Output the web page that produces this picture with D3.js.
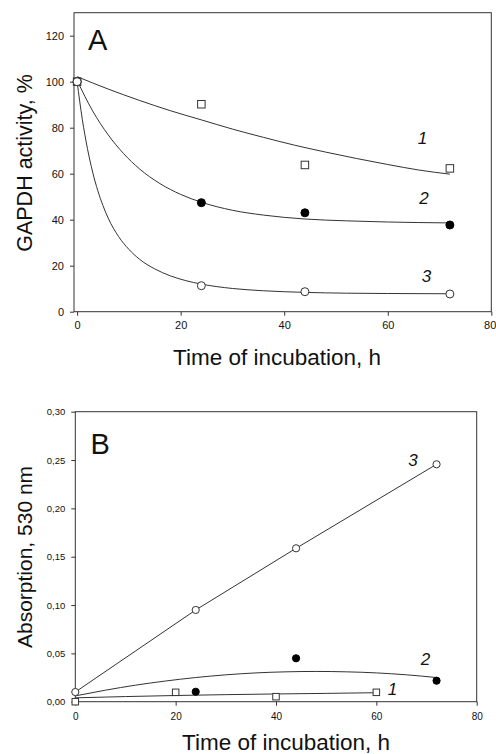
<!DOCTYPE html>
<html>
<head>
<meta charset="utf-8">
<script src="https://cdn.jsdelivr.net/npm/d3@7"></script>
<style>
  html, body { margin: 0; padding: 0; background: #fff; }
  svg { display: block; }
  text { font-family: "Liberation Sans", Arial, sans-serif; fill: #111; }
</style>
</head>
<body>
<svg id="chart" width="496" height="754"></svg>
<script>
// ---------- Panel A data ----------
const timeA = [0, 24, 44, 72];
const gapdh1 = [100, 90.2, 63.8, 62.3];
const gapdh2 = [100, 47.4, 43.0, 37.7];
const gapdh3 = [100, 11.3, 8.7, 7.7];
// fitted curves
const fitA1x = [0, 6, 12, 18, 24, 30, 36, 42, 48, 54, 60, 66, 72];
const fitA1y = [102.2, 96.8, 91.9, 87.4, 83.4, 79.4, 75.8, 72.4, 69.4, 66.6, 64.0, 61.6, 59.8];
const fitA2x = [0, 3, 6, 9, 12, 16, 20, 24, 30, 36, 44, 52, 60, 72];
const fitA2y = [100.5, 87.3, 76.9, 68.7, 62.2, 55.7, 51.0, 47.6, 44.1, 42.0, 40.3, 39.5, 39.0, 38.6];
const fitA3x = [0, 1, 2, 3, 4, 5, 6, 8, 10, 12, 15, 18, 21, 24, 30, 36, 44, 52, 60, 72];
const fitA3y = [100, 83.7, 70.9, 60.7, 52.6, 46.1, 40.7, 32.7, 27.1, 22.9, 18.6, 15.6, 13.5, 12.0, 10.1, 9.1, 8.4, 8.05, 7.9, 7.8];
const xTicksA = [0, 20, 40, 60, 80];
const yTicksA = [0, 20, 40, 60, 80, 100, 120];

// ---------- Panel B data ----------
const timeB1 = [0, 20, 40, 60];
const absorb1 = [0.000, 0.0097, 0.0052, 0.0097];
const timeB2 = [24, 44, 72];
const absorb2 = [0.0103, 0.0449, 0.0217];
const timeB3 = [0, 24, 44, 72];
const absorb3 = [0.0100, 0.0949, 0.1587, 0.2456];
const fitB1x = [0, 10, 20, 30, 40, 50, 60];
const fitB1y = [0.0040, 0.0053, 0.0064, 0.0073, 0.0080, 0.0086, 0.0093];
const fitB2x = [0, 6, 12, 18, 24, 30, 36, 42, 48, 54, 60, 66, 72];
const fitB2y = [0.0060, 0.0119, 0.0171, 0.0214, 0.0250, 0.0278, 0.0298, 0.0309, 0.0313, 0.0309, 0.0298, 0.0278, 0.0250];
const xTicksB = [0, 20, 40, 60, 80];
const yTicksB = [0, 0.05, 0.10, 0.15, 0.20, 0.25, 0.30];

const svg = d3.select("#chart");
const ink = "#333";
const zip = (xs, ys) => xs.map((x, i) => [x, ys[i]]);

function frameAndAxes(g, x, y, xt, yt, yfmt, xFont, yFont, xLabBase) {
  const [x0, x1] = x.range();
  const [y0, y1] = y.range();
  g.append("rect").attr("x", x0).attr("y", y1).attr("width", x1 - x0).attr("height", y0 - y1)
    .attr("fill", "none").attr("stroke", ink).attr("stroke-width", 1);
  const xa = g.append("g").attr("transform", `translate(0,${y0})`)
    .call(d3.axisBottom(x).tickValues(xt).tickSize(4).tickPadding(xLabBase).tickFormat(d3.format("d")));
  const ya = g.append("g").attr("transform", `translate(${x0},0)`)
    .call(d3.axisLeft(y).tickValues(yt).tickSize(4).tickPadding(6).tickFormat(yfmt));
  [xa, ya].forEach(a => {
    a.select(".domain").remove();
    a.selectAll("line").attr("stroke", ink);
    a.selectAll("text").attr("fill", "#222").style("font-family", '"Liberation Sans", Arial, sans-serif');
  });
  xa.selectAll("text").attr("font-size", xFont);
  ya.selectAll("text").attr("font-size", yFont);
  return xa;
}

function drawLine(g, x, y, pts, curve) {
  g.append("path").datum(pts)
    .attr("d", d3.line().x(d => x(d[0])).y(d => y(d[1])).curve(curve))
    .attr("fill", "none").attr("stroke", ink).attr("stroke-width", 1);
}
function squares(g, x, y, pts, s) {
  g.selectAll(null).data(pts).enter().append("rect")
    .attr("x", d => x(d[0]) - s / 2).attr("y", d => y(d[1]) - s / 2)
    .attr("width", s).attr("height", s)
    .attr("fill", "#fff").attr("stroke", ink).attr("stroke-width", 1);
}
function circles(g, x, y, pts, r, fill) {
  g.selectAll(null).data(pts).enter().append("circle")
    .attr("cx", d => x(d[0])).attr("cy", d => y(d[1])).attr("r", r)
    .attr("fill", fill ? "#000" : "#fff").attr("stroke", fill ? "#000" : ink).attr("stroke-width", 1);
}
function label(g, x, y, px, py, t) {
  g.append("text").attr("x", x(px)).attr("y", y(py)).attr("text-anchor", "middle")
    .attr("font-size", 17).attr("font-style", "italic").text(t);
}

// ---------- Panel A ----------
{
  const g = svg.append("g");
  const x = d3.scaleLinear().domain([-0.6, 80]).range([74, 491.3]);
  const y = d3.scaleLinear().domain([0, 130]).range([311.7, 12.7]);
  const xa = frameAndAxes(g, x, y, xTicksA, yTicksA, d3.format("d"), 11, 11, 6);
  // keep the last tick label inside the page
  xa.selectAll(".tick text").filter(d => d === 80).attr("text-anchor", "end").attr("dx", 4.5);

  drawLine(g, x, y, zip(fitA1x, fitA1y), d3.curveMonotoneX);
  drawLine(g, x, y, zip(fitA2x, fitA2y), d3.curveMonotoneX);
  drawLine(g, x, y, zip(fitA3x, fitA3y), d3.curveMonotoneX);

  squares(g, x, y, zip(timeA, gapdh1), 7.5);
  circles(g, x, y, zip(timeA, gapdh2), 4, true);
  circles(g, x, y, zip(timeA, gapdh3), 4, false);

  label(g, x, y, 66.7, 72.9, "1");
  label(g, x, y, 67.0, 46.8, "2");
  label(g, x, y, 67.5, 13.0, "3");

  g.append("text").attr("x", 88).attr("y", 49.5).attr("font-size", 29).text("A");
  g.append("text").attr("x", 277).attr("y", 365).attr("text-anchor", "middle")
    .attr("font-size", 22.5).text("Time of incubation, h");
  g.append("text").attr("transform", "translate(31.5,163) rotate(-90)").attr("text-anchor", "middle")
    .attr("font-size", 21.5).text("GAPDH activity, %");
}

// ---------- Panel B ----------
{
  const g = svg.append("g");
  const x = d3.scaleLinear().domain([0, 80]).range([75.3, 476.7]);
  const y = d3.scaleLinear().domain([0, 0.30]).range([701.7, 411.7]);
  frameAndAxes(g, x, y, xTicksB, yTicksB, d => d3.format(".2f")(d).replace(".", ","), 10, 9.5, 7);

  drawLine(g, x, y, zip(timeB3, absorb3), d3.curveLinear);
  drawLine(g, x, y, zip(fitB2x, fitB2y), d3.curveMonotoneX);
  drawLine(g, x, y, zip(fitB1x, fitB1y), d3.curveMonotoneX);

  squares(g, x, y, zip(timeB1, absorb1), 6.5);
  circles(g, x, y, zip(timeB2, absorb2), 3.6, true);
  circles(g, x, y, zip(timeB3, absorb3), 3.6, false);

  label(g, x, y, 67.3, 0.2438, "3");
  label(g, x, y, 69.8, 0.038, "2");
  label(g, x, y, 63.2, 0.0069, "1");

  g.append("text").attr("x", 90.5).attr("y", 454).attr("font-size", 29).text("B");
  g.append("text").attr("x", 286).attr("y", 750).attr("text-anchor", "middle")
    .attr("font-size", 22.5).text("Time of incubation, h");
  g.append("text").attr("transform", "translate(31.5,557) rotate(-90)").attr("text-anchor", "middle")
    .attr("font-size", 21).text("Absorption, 530 nm");
}
</script>
</body>
</html>
